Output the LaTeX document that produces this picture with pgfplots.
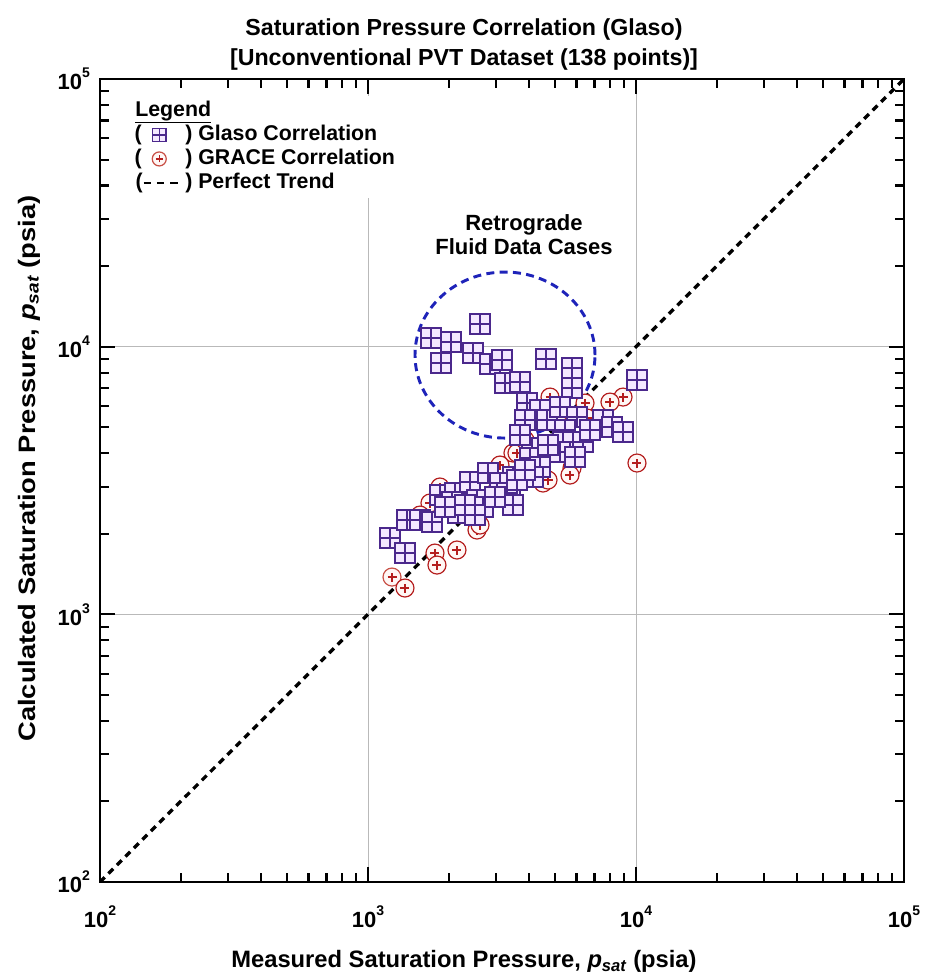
\documentclass[border=0pt]{standalone}
\usepackage{fontspec}
\setmainfont{Liberation Sans}
\usepackage{pgfplots}
\pgfplotsset{compat=1.18}

\definecolor{glasoedge}{RGB}{75,40,140}
\definecolor{glasofill}{RGB}{244,232,255}
\definecolor{graceedge}{RGB}{200,80,70}
\definecolor{gracefill}{RGB}{255,247,245}
\definecolor{gracecross}{RGB}{180,30,30}
\definecolor{retroblue}{RGB}{30,35,185}

% square with a cross inside
\pgfdeclareplotmark{boxplus}{%
  \pgfpathrectangle{\pgfqpoint{-\pgfplotmarksize}{-\pgfplotmarksize}}{\pgfqpoint{2\pgfplotmarksize}{2\pgfplotmarksize}}%
  \pgfusepathqfillstroke
  \pgfpathmoveto{\pgfqpoint{-\pgfplotmarksize}{0pt}}%
  \pgfpathlineto{\pgfqpoint{\pgfplotmarksize}{0pt}}%
  \pgfpathmoveto{\pgfqpoint{0pt}{-\pgfplotmarksize}}%
  \pgfpathlineto{\pgfqpoint{0pt}{\pgfplotmarksize}}%
  \pgfusepathqstroke
}
% circle with a small cross inside
\pgfdeclareplotmark{circplus}{%
  \pgfpathcircle{\pgfpointorigin}{\pgfplotmarksize}%
  \pgfusepathqfillstroke
  \pgfsetstrokecolor{gracecross}%
  \pgfpathmoveto{\pgfqpoint{-0.5\pgfplotmarksize}{0pt}}%
  \pgfpathlineto{\pgfqpoint{0.5\pgfplotmarksize}{0pt}}%
  \pgfpathmoveto{\pgfqpoint{0pt}{-0.5\pgfplotmarksize}}%
  \pgfpathlineto{\pgfqpoint{0pt}{0.5\pgfplotmarksize}}%
  \pgfusepathqstroke
}

\pgfplotsset{
  glaso/.style={only marks, mark=boxplus, mark size=7.5pt,
    mark options={draw=glasoedge, fill=glasofill, line width=1.1pt}},
  grace/.style={only marks, mark=circplus, mark size=6.75pt,
    mark options={draw=graceedge, fill=gracefill, line width=0.9pt}},
  paren mark legend/.style={legend image code/.code={%
      \path[draw=none, fill=none] (0pt,-6pt) rectangle (38.25pt,6pt);
      \node[draw=none, fill=none, anchor=west, inner sep=0pt, text=black] at (0pt,0pt) {(};
      \draw[##1] plot coordinates {(18.75pt,0pt)};
  }},
  paren line legend/.style={legend image code/.code={%
      \path[draw=none, fill=none] (0pt,-6pt) rectangle (38.25pt,6pt);
      \node[draw=none, fill=none, anchor=west, inner sep=0pt, text=black] at (0pt,0pt) {(};
      \draw[##1] (7pt,0pt) -- (33pt,0pt);
  }},
}

\newcommand{\tenpow}[1]{10\raisebox{9pt}{\fontsize{10.5}{12}\selectfont #1}}

\begin{document}
\begin{tikzpicture}
\begin{axis}[
  at={(0pt,0pt)}, anchor=south west,
  scale only axis, width=603pt, height=602.25pt,
  xmode=log, ymode=log,
  xmin=100, xmax=100000, ymin=100, ymax=100000,
  xtick={100,1000,10000,100000}, ytick={100,1000,10000,100000},
  minor xtick={200,300,400,500,600,700,800,900,2000,3000,4000,5000,6000,7000,8000,9000,20000,30000,40000,50000,60000,70000,80000,90000},
  minor ytick={200,300,400,500,600,700,800,900,2000,3000,4000,5000,6000,7000,8000,9000,20000,30000,40000,50000,60000,70000,80000,90000},
  xticklabels={\tenpow{2},\tenpow{3},\tenpow{4},\tenpow{5}},
  yticklabels={\tenpow{2},\tenpow{3},\tenpow{4},\tenpow{5}},
  xtick pos=both, ytick pos=both,
  xticklabel pos=lower, yticklabel pos=left,
  tick align=inside,
  major tick length=11pt, minor tick length=6.75pt,
  tick style={line width=1.6pt, black},
  axis line style={line width=2.2pt},
  ticklabel style={font=\bfseries\fontsize{16.5}{18}\selectfont},
  xticklabel style={yshift=-14pt},
  yticklabel style={xshift=-4pt},
  grid=major, major grid style={gray!55, line width=0.6pt},
  xlabel={Measured Saturation Pressure, \textit{p\textsubscript{sat}} (psia)},
  ylabel={\scalebox{1}[0.87]{Calculated Saturation Pressure, \textit{p\textsubscript{sat}} (psia)}},
  xlabel style={font=\bfseries\fontsize{17.8}{21}\selectfont,
    at={(axis description cs:0.4527,0)}, anchor=base, yshift=-64.5pt},
  ylabel style={font=\bfseries\fontsize{20.5}{24}\selectfont,
    at={(axis description cs:-0.0808,0.515)}, anchor=base},
  legend style={at={(axis description cs:0.0373,0.9788)}, anchor=north west,
    draw=none, fill=white, inner sep=3pt, row sep=2pt,
    font=\bfseries\fontsize{16}{19}\selectfont,
    nodes={inner sep=0pt, text height=12pt, text depth=4pt}},
  legend cell align=left,
]
% legend rows
\addlegendimage{empty legend}
\addlegendentry{\hspace*{-37.5pt}\underline{Legend}}
\addlegendimage{glaso, mark size=4.9pt, paren mark legend}
\addlegendentry{) Glaso Correlation}
\addlegendimage{grace, mark size=5.25pt, paren mark legend}
\addlegendentry{) GRACE Correlation}
\addlegendimage{black, line width=2pt, dash pattern=on 5.5pt off 4.5pt, paren line legend}
\addlegendentry{) Perfect Trend}

% perfect trend y = x
\addplot[black, line width=2.5pt, dash pattern=on 5pt off 4pt, forget plot]
  coordinates {(100,100) (100000,100000)};

% GRACE correlation
\addplot[grace, forget plot] coordinates {
(1229,1378) (1374,1254) (1778,1694) (1809,1528) (2148,1739) (2551,2065)
(1856,2990) (1703,2605) (3475,4005) (4498,3094) (4696,3175) (5771,3519)
(5672,3314) (10085,3675) (8944,6482) (7998,6209) (6453,6156) (6566,5412)
(4777,6482) (3108,3612) (3597,4005) (2205,2452) (2618,2156) (1564,2349)
(3030,2913) (3853,4479) (5206,5095) (4022,3459)
};

% Glaso correlation
\addplot[glaso, forget plot] coordinates {
(1719,10767) (2040,10404) (1873,8683) (2618,12145) (2465,9465) (2853,8610)
(3162,8912) (3245,7312) (3692,7375) (4616,8987) (5771,8318) (5771,7633)
(5771,7005) (10085,7503) (3921,6156) (4384,5799) (3853,5319) (4656,5319)
(5206,5948) (6025,5458) (5433,4881) (7533,5319) (8136,5008) (8944,4797)
(4093,4181) (5340,4403) (6343,4403) (5206,4040) (5921,3870) (4022,3836)
(4384,3550) (3475,3259) (4128,3259) (3387,2990) (4696,4291) (3692,4675)
(6737,4881) (1208,1928) (1374,1694) (1398,2251) (1564,2251) (1733,2212)
(1856,2791) (2112,2839) (2167,2390) (2402,3120) (2551,2673) (2686,2516)
(2804,3371) (3108,3094) (3302,2839) (3597,3175) (3475,2560) (2058,2628)
(1938,2516) (2302,2560) (2507,2349) (2978,2743) (3853,3459)
};

% retrograde fluid cases
\draw[retroblue, line width=2.2pt, dash pattern=on 6pt off 4pt]
  (axis cs:3245,9303) ellipse [x radius=67.5pt, y radius=62.25pt];
\node[font=\bfseries\fontsize{16.5}{18}\selectfont, align=center]
  at (axis cs:3820,26116) {Retrograde\\Fluid Data Cases};
\end{axis}
\node[font=\bfseries\fontsize{17.4}{22.5}\selectfont, anchor=base] at (273pt,634.5pt)
  {Saturation Pressure Correlation (Glaso)};
\node[font=\bfseries\fontsize{17.4}{22.5}\selectfont, anchor=base] at (273pt,612pt)
  {[Unconventional PVT Dataset (138 points)]};
\pgfresetboundingbox
\path[use as bounding box] (-75pt,-72pt) rectangle (621pt,661.5pt);
\end{tikzpicture}
\end{document}
